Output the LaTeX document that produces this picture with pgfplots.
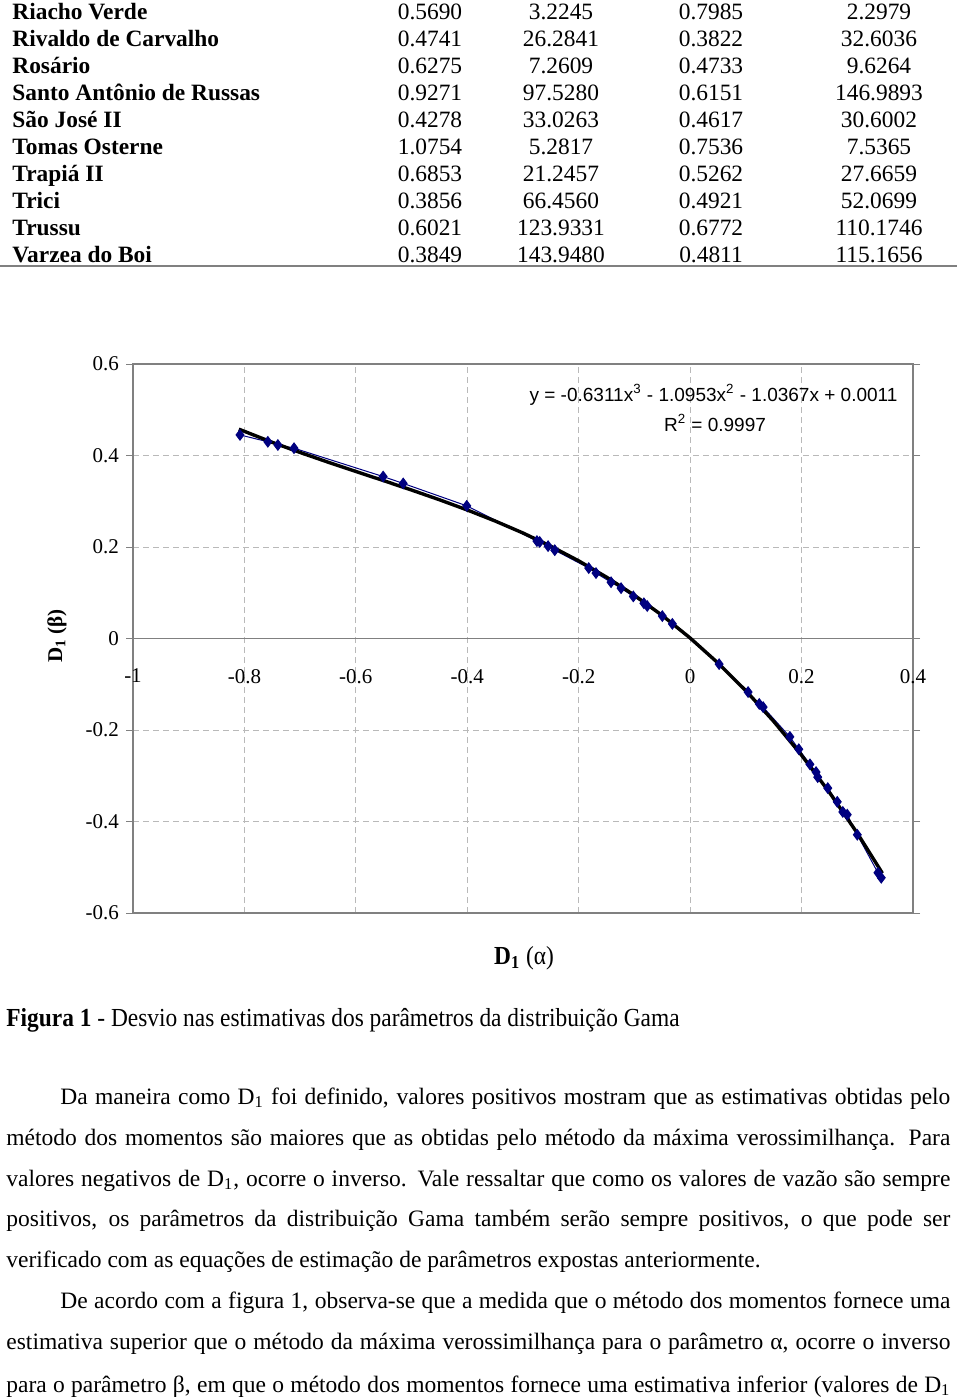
\documentclass[border=0pt]{standalone}
\usepackage{fontspec}
\setmainfont{Liberation Serif}
\newfontfamily\arial{Liberation Sans}
\newfontfamily\narrow[FakeStretch=0.9]{Liberation Serif}
\usepackage{pgfplots}
\pgfplotsset{compat=1.18}
\definecolor{navy}{RGB}{0,0,128}
\definecolor{gridgray}{RGB}{185,185,185}
\definecolor{boxgray}{RGB}{128,128,128}

\pgfplotstableread{
x y
-0.808 0.445
-0.758 0.430
-0.740 0.423
-0.711 0.416
-0.551 0.354
-0.515 0.339
-0.401 0.290
-0.275 0.213
-0.270 0.211
-0.255 0.202
-0.243 0.193
-0.182 0.154
-0.169 0.143
-0.142 0.123
-0.124 0.110
-0.102 0.092
-0.083 0.077
-0.077 0.071
-0.050 0.049
-0.032 0.032
0.052 -0.056
0.104 -0.117
0.124 -0.143
0.131 -0.150
0.179 -0.215
0.195 -0.242
0.215 -0.275
0.226 -0.292
0.229 -0.303
0.247 -0.327
0.264 -0.357
0.274 -0.379
0.282 -0.385
0.300 -0.429
0.337 -0.512
0.343 -0.523
}\pontos

% trendline y = -0.6311x^3 - 1.0953x^2 - 1.0367x + 0.0011
\pgfplotstableread{
x y
-0.81 0.4576
-0.75 0.4288
-0.70 0.4066
-0.65 0.3855
-0.60 0.3651
-0.55 0.3450
-0.50 0.3245
-0.45 0.3033
-0.40 0.2809
-0.35 0.2568
-0.30 0.2306
-0.25 0.2017
-0.20 0.1697
-0.15 0.1341
-0.10 0.0945
-0.05 0.0503
0.00 0.0011
0.05 -0.0536
0.10 -0.1142
0.15 -0.1812
0.20 -0.2551
0.25 -0.3364
0.30 -0.4255
0.345 -0.5129
}\tendencia

\begin{document}
\begin{tikzpicture}[x=0.5pt,y=-0.5pt]
\path[use as bounding box] (0,0) rectangle (960,1400);

% tabela
\begin{scope}[font=\fontsize{11.7pt}{14pt}\selectfont]
\foreach \nome/\a/\b/\c/\d [count=\i from 0] in {
  Riacho Verde/0.5690/3.2245/0.7985/2.2979,
  Rivaldo de Carvalho/0.4741/26.2841/0.3822/32.6036,
  Rosário/0.6275/7.2609/0.4733/9.6264,
  Santo Antônio de Russas/0.9271/97.5280/0.6151/146.9893,
  São José II/0.4278/33.0263/0.4617/30.6002,
  Tomas Osterne/1.0754/5.2817/0.7536/7.5365,
  Trapiá II/0.6853/21.2457/0.5262/27.6659,
  Trici/0.3856/66.4560/0.4921/52.0699,
  Trussu/0.6021/123.9331/0.6772/110.1746,
  Varzea do Boi/0.3849/143.9480/0.4811/115.1656}{
  \pgfmathsetmacro\yb{20+27*\i}
  \node[anchor=base west,inner sep=0,font=\bfseries\fontsize{11.7pt}{14pt}\selectfont] at (12,\yb) {\nome};
  \node[anchor=base,inner sep=0] at (430,\yb) {\a};
  \node[anchor=base,inner sep=0] at (561,\yb) {\b};
  \node[anchor=base,inner sep=0] at (711,\yb) {\c};
  \node[anchor=base,inner sep=0] at (879,\yb) {\d};
}
\end{scope}
\draw[boxgray,line width=1pt] (0,266) -- (957,266);

% grafico
\begin{axis}[
  at={(66.5pt,-456.5pt)}, anchor=south west,
  scale only axis, width=390pt, height=274.5pt,
  xmin=-1, xmax=0.4, ymin=-0.6, ymax=0.6,
  xtick={-1,-0.8,-0.6,-0.4,-0.2,0,0.2,0.4},
  xticklabels={-1,-0.8,-0.6,-0.4,-0.2,0,0.2,0.4},
  ytick={-0.6,-0.4,-0.2,0,0.2,0.4,0.6},
  yticklabels={-0.6,-0.4,-0.2,0,0.2,0.4,0.6},
  grid=major,
  major grid style={gridgray, dash pattern=on 3pt off 2pt, line width=0.5pt},
  axis line style={boxgray, line width=0.9pt},
  tick align=outside,
  x tick style={draw=none},
  y tick style={boxgray, line width=0.5pt},
  major tick length=3.5pt,
  tick label style={font=\fontsize{10.5pt}{12pt}\selectfont},
  xticklabel style={yshift=129pt},
  clip=false,
]
\draw[boxgray,line width=0.5pt] (axis cs:-1,0) -- (axis cs:0.4,0);
\addplot[navy, line width=0.5pt, mark=diamond*, mark size=2.6pt,
  mark options={fill=navy,draw=navy}] table[x=x,y=y] {\pontos};
\addplot[black, line width=1.7pt, no marks] table[x=x,y=y] {\tendencia};
\end{axis}

\node[font=\arial\fontsize{9.5pt}{11pt}\selectfont,inner sep=0] at (713.5,395)
  {y = -0.6311x\textsuperscript{3} - 1.0953x\textsuperscript{2} - 1.0367x + 0.0011};
\node[font=\arial\fontsize{9.5pt}{11pt}\selectfont,inner sep=0] at (715,423)
  {R\textsuperscript{2} = 0.9997};

\node[rotate=90,font=\bfseries\fontsize{10.5pt}{12pt}\selectfont] at (57,636)
  {D\textsubscript{1} (β)};
\node[font=\narrow\fontsize{13pt}{15pt}\selectfont] at (524,958)
  {\textbf{D\textsubscript{1}} (α)};

\node[anchor=base west,inner sep=0,font=\narrow\fontsize{13pt}{15pt}\selectfont] at (6,1026)
  {\textbf{Figura 1} - Desvio nas estimativas dos parâmetros da distribuição Gama};

% texto
\begin{scope}[font=\fontsize{11.75pt}{13pt}\selectfont, every node/.style={anchor=base west,inner sep=0}]
\node at (60,1104) {\makebox[445pt][s]{Da maneira como D\textsubscript{1} foi definido, valores positivos mostram que as estimativas obtidas pelo}};
\node at (6,1145) {\makebox[472pt][s]{método dos momentos são maiores que as obtidas pelo método da máxima verossimilhança. Para}};
\node at (6,1186) {\makebox[472pt][s]{valores negativos de D\textsubscript{1}, ocorre o inverso. Vale ressaltar que como os valores de vazão são sempre}};
\node at (6,1226) {\makebox[472pt][s]{positivos, os parâmetros da distribuição Gama também serão sempre positivos, o que pode ser}};
\node at (6,1267) {verificado com as equações de estimação de parâmetros expostas anteriormente.};
\node at (60,1308) {\makebox[445pt][s]{De acordo com a figura 1, observa-se que a medida que o método dos momentos fornece uma}};
\node at (6,1349) {\makebox[472pt][s]{estimativa superior que o método da máxima verossimilhança para o parâmetro α, ocorre o inverso}};
\node at (6,1392) {\makebox[472pt][s]{para o parâmetro β, em que o método dos momentos fornece uma estimativa inferior (valores de D\textsubscript{1}}};
\end{scope}
\end{tikzpicture}
\end{document}
